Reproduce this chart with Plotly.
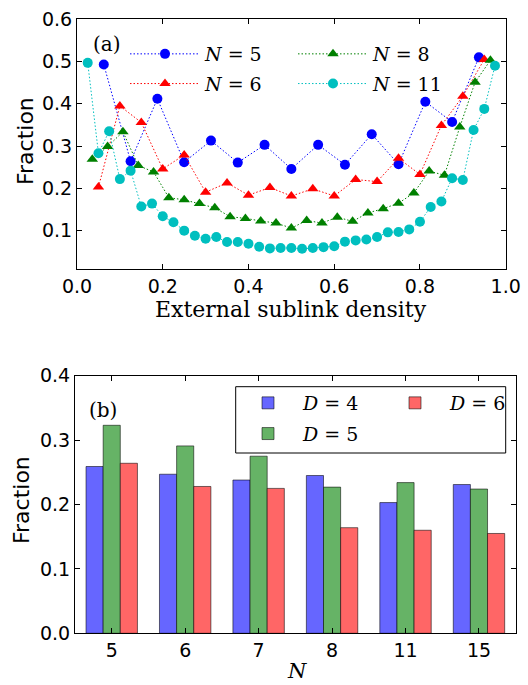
import plotly.graph_objects as go

W, H = 528, 685

# ---- panel (a) data ----
x_n5 = [k / 16 for k in range(1, 16)]
y_n5 = [0.493, 0.264, 0.412, 0.262, 0.313, 0.261, 0.303, 0.246, 0.303, 0.256,
        0.328, 0.257, 0.405, 0.357, 0.510]

x_n6 = [k / 20 for k in range(1, 20)]
y_n6 = [0.203, 0.395, 0.356, 0.246, 0.279, 0.191, 0.213, 0.184, 0.202, 0.182,
        0.199, 0.182, 0.221, 0.216, 0.271, 0.233, 0.349, 0.418, 0.505]

x_n8 = [k / 28 for k in range(1, 28)]
y_n8 = [0.269, 0.299, 0.334, 0.254, 0.239, 0.178, 0.173, 0.164, 0.154, 0.133,
        0.129, 0.123, 0.118, 0.106, 0.124, 0.118, 0.132, 0.122, 0.142, 0.152,
        0.165, 0.189, 0.241, 0.231, 0.345, 0.451, 0.503]

x_n11 = [k / 40 for k in range(1, 40)]
y_n11 = [0.497, 0.283, 0.335, 0.222, 0.242, 0.157, 0.164, 0.134, 0.120, 0.100,
         0.088, 0.081, 0.085, 0.073, 0.073, 0.069, 0.062, 0.058, 0.059, 0.059,
         0.057, 0.059, 0.061, 0.063, 0.074, 0.077, 0.079, 0.085, 0.096, 0.097,
         0.103, 0.121, 0.156, 0.169, 0.224, 0.220, 0.338, 0.388, 0.490]

# ---- panel (b) data ----
n_labels = ["5", "6", "7", "8", "11", "15"]
d4 = [0.259, 0.247, 0.238, 0.245, 0.203, 0.231]
d5 = [0.323, 0.291, 0.275, 0.227, 0.234, 0.224]
d6 = [0.264, 0.228, 0.225, 0.164, 0.160, 0.155]

a_xticks = [0.0, 0.2, 0.4, 0.6, 0.8, 1.0]
a_yticks = [0.1, 0.2, 0.3, 0.4, 0.5, 0.6]
b_yticks = [0.0, 0.1, 0.2, 0.3, 0.4]

SANS = "DejaVu Sans"
SERIF = "DejaVu Serif"


def px_x(p):
    return p / W


def px_y(p):
    return 1 - p / H


fig = go.Figure()

line_series = [
    ("<i>N</i> = 5", x_n5, y_n5, "#0000ff", "circle", "legend"),
    ("<i>N</i> = 6", x_n6, y_n6, "#ff0000", "triangle-up", "legend"),
    ("<i>N</i> = 8", x_n8, y_n8, "#008000", "triangle-up", "legend3"),
    ("<i>N</i> = 11", x_n11, y_n11, "#00bfbf", "circle", "legend3"),
]
for name, xs, ys, col, sym, leg in line_series:
    fig.add_trace(go.Scatter(
        x=xs, y=ys, name=name, mode="lines+markers",
        line=dict(color=col, width=1, dash="1.5px,2px"),
        marker=dict(color=col, symbol=sym, size=10),
        legend=leg, legendgroup=name, xaxis="x", yaxis="y",
    ))

bar_series = [
    ("<i>D</i> = 4", d4, "rgb(102,102,255)", "legend2"),
    ("<i>D</i> = 5", d5, "rgb(102,179,102)", "legend2"),
    ("<i>D</i> = 6", d6, "rgb(255,102,102)", "legend4"),
]
for name, vals, col, leg in bar_series:
    fig.add_trace(go.Bar(
        x=list(range(len(n_labels))), y=vals, name=name,
        marker=dict(color=col, line=dict(color="rgba(0,0,0,0.55)", width=1)),
        legend=leg, legendgroup=name, xaxis="x2", yaxis="y2",
    ))

axis_common = dict(
    showgrid=False, zeroline=False, showline=True, linecolor="black", linewidth=1,
    mirror="ticks", ticks="inside", ticklen=5, tickwidth=1, tickcolor="black",
    tickfont=dict(family=SANS, size=19, color="black"), automargin=False,
)

leg_font = dict(family=SERIF, size=19, color="black")


def legend_box(xp, yp, itemw, gap):
    return dict(
        x=px_x(xp), y=px_y(yp), xanchor="left", yanchor="top",
        orientation="v", bgcolor="rgba(0,0,0,0)", borderwidth=0,
        font=leg_font, itemwidth=itemw, traceorder="grouped",
        tracegroupgap=gap,
    )


fig.update_layout(
    width=W, height=H, margin=dict(l=0, r=0, t=0, b=0),
    paper_bgcolor="white", plot_bgcolor="white",
    barmode="group", bargap=0.3, bargroupgap=0,
    xaxis=dict(domain=[px_x(77), px_x(505.7)], range=[0, 1], tickvals=a_xticks,
               tickformat=".1f", anchor="y", **axis_common),
    yaxis=dict(domain=[px_y(268.7), px_y(19.3)], range=[0.01, 0.6], tickvals=a_yticks,
               tickformat=".1f", anchor="x", **axis_common),
    xaxis2=dict(domain=[px_x(75), px_x(515.7)], range=[-0.5, 5.5],
                tickvals=list(range(len(n_labels))), ticktext=n_labels,
                anchor="y2", **axis_common),
    yaxis2=dict(domain=[px_y(633.3), px_y(375.7)], range=[0, 0.4], tickvals=b_yticks,
                tickformat=".1f", anchor="x2", **axis_common),
    legend=legend_box(125, 35, 70, 2),
    legend3=legend_box(293, 35, 70, 2),
    legend2=legend_box(233, 384, 60, 3),
    legend4=legend_box(380, 384, 60, 3),
    showlegend=True,
    shapes=[dict(type="rect", xref="paper", yref="paper",
                 x0=px_x(235.7), x1=px_x(505.7), y0=px_y(453), y1=px_y(386.7),
                 line=dict(color="black", width=1), fillcolor="white", layer="above")],
)

ann = [
    dict(text="(a)", x=px_x(106.7), y=px_y(44), font=dict(family=SERIF, size=20)),
    dict(text="(b)", x=px_x(102.5), y=px_y(410), font=dict(family=SERIF, size=20)),
    dict(text="Fraction", x=px_x(25), y=px_y(141), textangle=-90,
         font=dict(family=SANS, size=22)),
    dict(text="Fraction", x=px_x(21), y=px_y(500), textangle=-90,
         font=dict(family=SANS, size=22)),
    dict(text="External sublink density", x=px_x(291), y=px_y(309),
         font=dict(family=SERIF, size=22)),
    dict(text="<i>N</i>", x=px_x(297), y=px_y(671), font=dict(family=SERIF, size=21)),
]
for a in ann:
    a.update(xref="paper", yref="paper", showarrow=False, xanchor="center",
             yanchor="middle")
    a["font"]["color"] = "black"
fig.update_layout(annotations=ann)

fig.write_html("out.html", config={"displayModeBar": False},
               post_script="document.body.style.margin='0';")
